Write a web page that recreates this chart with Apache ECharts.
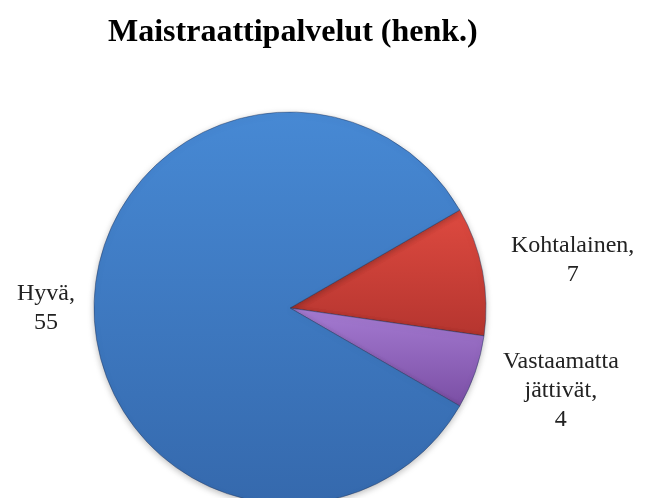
<!DOCTYPE html>
<html>
<head>
<meta charset="utf-8">
<script src="https://cdn.jsdelivr.net/npm/echarts@6/dist/echarts.min.js"></script>
<style>
  html, body { margin: 0; padding: 0; background: #fff; }
  #chart { width: 647px; height: 498px; }
</style>
</head>
<body>
<div id="chart"></div>
<script>
// Survey answers for the registry office services (persons)
const titleText = 'Maistraattipalvelut (henk.)';
const categories = ['Kohtalainen', 'Vastaamatta jättivät', 'Hyvä'];
const counts = [7, 4, 55];

// Slice fills: light top, darker bottom
const fills = [
  ['#de4a40', '#b5352f'],
  ['#a57bd2', '#7a4ea4'],
  ['#4789d4', '#3569ad']
];

const pieCenter = [290, 308];

const chart = echarts.init(document.getElementById('chart'), null, { renderer: 'canvas' });

const data = categories.map((name, i) => ({
  name: name,
  value: counts[i],
  itemStyle: {
    color: {
      type: 'linear', x: 0, y: 0, x2: 0, y2: 1,
      colorStops: [
        { offset: 0, color: fills[i][0] },
        { offset: 1, color: fills[i][1] }
      ]
    }
  }
}));

chart.setOption({
  backgroundColor: '#ffffff',
  animation: false,
  title: {
    text: titleText,
    left: 103,
    top: 12,
    textStyle: {
      fontFamily: 'Liberation Serif',
      fontWeight: 'bold',
      fontSize: 32,
      color: '#000'
    }
  },
  series: [{
    type: 'pie',
    center: pieCenter,
    radius: 196,
    startAngle: 30,
    clockwise: true,
    data: data,
    itemStyle: {
      borderColor: 'rgba(30,50,90,0.45)',
      borderWidth: 1,
      shadowColor: 'rgba(0,0,0,0.25)',
      shadowBlur: 6,
      shadowOffsetY: 2
    },
    labelLine: { show: false, length: 24, length2: 0 },
    label: {
      show: true,
      position: 'outside',
      overflow: 'none',
      formatter: p => p.name.replace(' ', '\n') + ',\n' + p.value,
      fontFamily: 'Liberation Serif',
      fontSize: 24,
      lineHeight: 29,
      color: '#222'
    },
    // center the lines of each label and spread the labels a little vertically
    labelLayout: function (params) {
      const r = params.labelRect;
      const cx = r.x + r.width / 2;
      const cy = r.y + r.height / 2;
      const leftSide = cx < pieCenter[0];
      return {
        x: leftSide ? cx + 10 : cx,
        y: pieCenter[1] + (cy - pieCenter[1]) * 1.15,
        align: 'center',
        verticalAlign: 'middle'
      };
    }
  }]
});
</script>
</body>
</html>
